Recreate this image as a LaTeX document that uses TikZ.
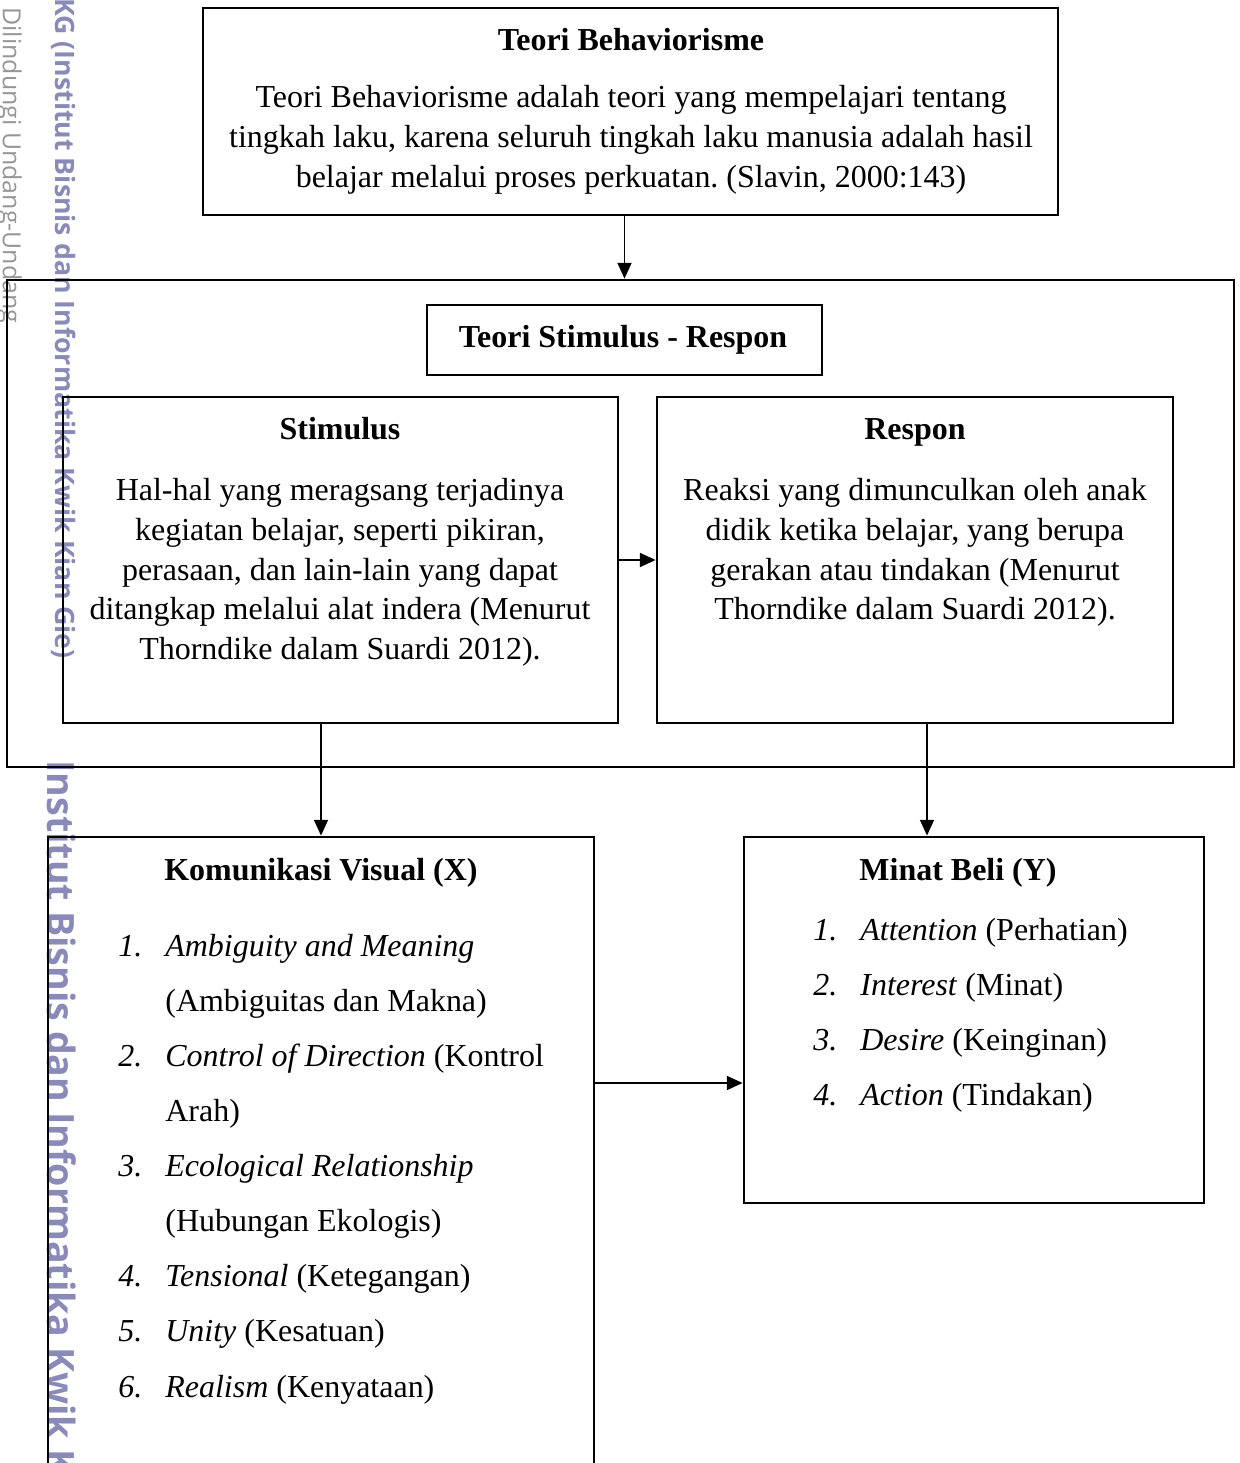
\documentclass[tikz,border=0pt]{standalone}
\usepackage{fontspec}
\setmainfont{Liberation Serif}
\newfontfamily\wmfont{Open Sans}
\usepackage{xcolor}
\usetikzlibrary{arrows.meta, positioning, fit}
\definecolor{wmblue}{RGB}{138,138,184}
\definecolor{wmgray}{RGB}{150,150,150}
\frenchspacing

\begin{document}
\begin{tikzpicture}[
    x=0.02cm, y=-0.02cm,
    box/.style={draw, line width=1.6pt, inner sep=0pt},
    txt/.style={inner sep=0pt, anchor=base, font=\fontsize{18.2}{22}\selectfont},
    ttl/.style={txt, font=\fontsize{18.2}{22}\selectfont\bfseries},
    item/.style={txt, anchor=base west},
    numlbl/.style={txt, anchor=base west, font=\fontsize{18.2}{22}\selectfont\itshape},
    wm/.style={inner sep=0pt, anchor=base west, rotate=-90},
    arrow/.style={line width=0.95pt, -{Triangle[length=9pt, width=8pt]}}
]

% Page
\useasboundingbox (0,0) rectangle (1240,1463);
\clip (0,0) rectangle (1240,1463);

% Watermark
\node[wm, text=wmgray, font=\wmfont\fontsize{14.2}{16}\selectfont] (wmlaw) at (3,7) {Dilindungi Undang-Undang};
\node[wm, text=wmblue, font=\wmfont\bfseries\fontsize{15.2}{17}\selectfont] (wmtop) at (55,-2) {KG (Institut Bisnis dan Informatika Kwik Kian Gie)};
\node[wm, text=wmblue, font=\wmfont\bfseries\fontsize{21.4}{24}\selectfont] (wmbot) at (47,760) {Institut Bisnis dan Informatika Kwik K};

% Boxes
\node[box, fit={(203,8) (1058,215)}] (behav) {};
\node[box, fit={(7,280) (1234,767)}] (tsr) {};
\node[box, fit={(427,305) (822,375)}] (tsrhead) {};
\node[box, fit={(63,397) (618,723)}] (stim) {};
\node[box, fit={(657,397) (1173,723)}] (resp) {};
\node[box, fit={(48,837) (594,1520)}] (komvis) {};
\node[box, fit={(744,837) (1204,1203)}] (minat) {};

% Teori Behaviorisme
\node[ttl] (behavttl) at (631,51) {Teori Behaviorisme};
\foreach \txt/\y [count=\i] in {{Teori Behaviorisme adalah teori yang mempelajari tentang}/108,
    {tingkah laku, karena seluruh tingkah laku manusia adalah hasil}/148,
    {belajar melalui proses perkuatan. (Slavin, 2000:143)}/188}
    \node[txt] (behav\i) at (631,\y) {\txt};

% Stimulus - Respon
\node[ttl] (tsrttl) at (623,347) {Teori Stimulus - Respon};
\node[ttl] (stimttl) at (340,439) {Stimulus};
\foreach \txt/\y [count=\i] in {{Hal-hal yang meragsang terjadinya}/500,
    {kegiatan belajar, seperti pikiran,}/540,
    {perasaan, dan lain-lain yang dapat}/580,
    {ditangkap melalui alat indera (Menurut}/619,
    {Thorndike dalam Suardi 2012).}/659}
    \node[txt] (stim\i) at (340,\y) {\txt};
\node[ttl] (respttl) at (915,439) {Respon};
\foreach \txt/\y [count=\i] in {{Reaksi yang dimunculkan oleh anak}/500,
    {didik ketika belajar, yang berupa}/540,
    {gerakan atau tindakan (Menurut}/580,
    {Thorndike dalam Suardi 2012).}/619}
    \node[txt] (resp\i) at (915,\y) {\txt};

% Komunikasi Visual
\node[ttl] (komttl) at (321,880) {Komunikasi Visual (X)};
\foreach \n/\txt/\y in {1/{\textit{Ambiguity and Meaning}}/956,
    2/{\textit{Control of Direction} (Kontrol}/1066,
    3/{\textit{Ecological Relationship}}/1176,
    4/{\textit{Tensional} (Ketegangan)}/1286,
    5/{\textit{Unity} (Kesatuan)}/1341,
    6/{\textit{Realism} (Kenyataan)}/1397}
{
    \node[numlbl] (komnum\n) at (118,\y) {\n.};
    \node[item] (kom\n) at (165,\y) {\txt};
}
\foreach \txt/\y [count=\i] in {{(Ambiguitas dan Makna)}/1011, {Arah)}/1121, {(Hubungan Ekologis)}/1231}
    \node[item] (komcont\i) at (165,\y) {\txt};

% Minat Beli
\node[ttl] (minttl) at (958,880) {Minat Beli (Y)};
\foreach \n/\txt/\y in {1/{\textit{Attention} (Perhatian)}/940,
    2/{\textit{Interest} (Minat)}/995,
    3/{\textit{Desire} (Keinginan)}/1050,
    4/{\textit{Action} (Tindakan)}/1105}
{
    \node[numlbl] (minnum\n) at (813,\y) {\n.};
    \node[item] (min\n) at (860,\y) {\txt};
}

% Arrows
\draw[arrow] (behav.south -| tsrhead.north) -- (tsr.north -| tsrhead.north);
\draw[arrow] (stim.east) -- (resp.west);
\draw[arrow] (stim.south -| komvis.north) -- (komvis.north);
\draw[arrow] ([xshift=0.24cm]resp.south) -- ([xshift=0.24cm]resp.south |- minat.north);
\draw[arrow] ([yshift=-1.26cm]minat.west -| komvis.east) -- ([yshift=-1.26cm]minat.west);

\end{tikzpicture}
\end{document}
